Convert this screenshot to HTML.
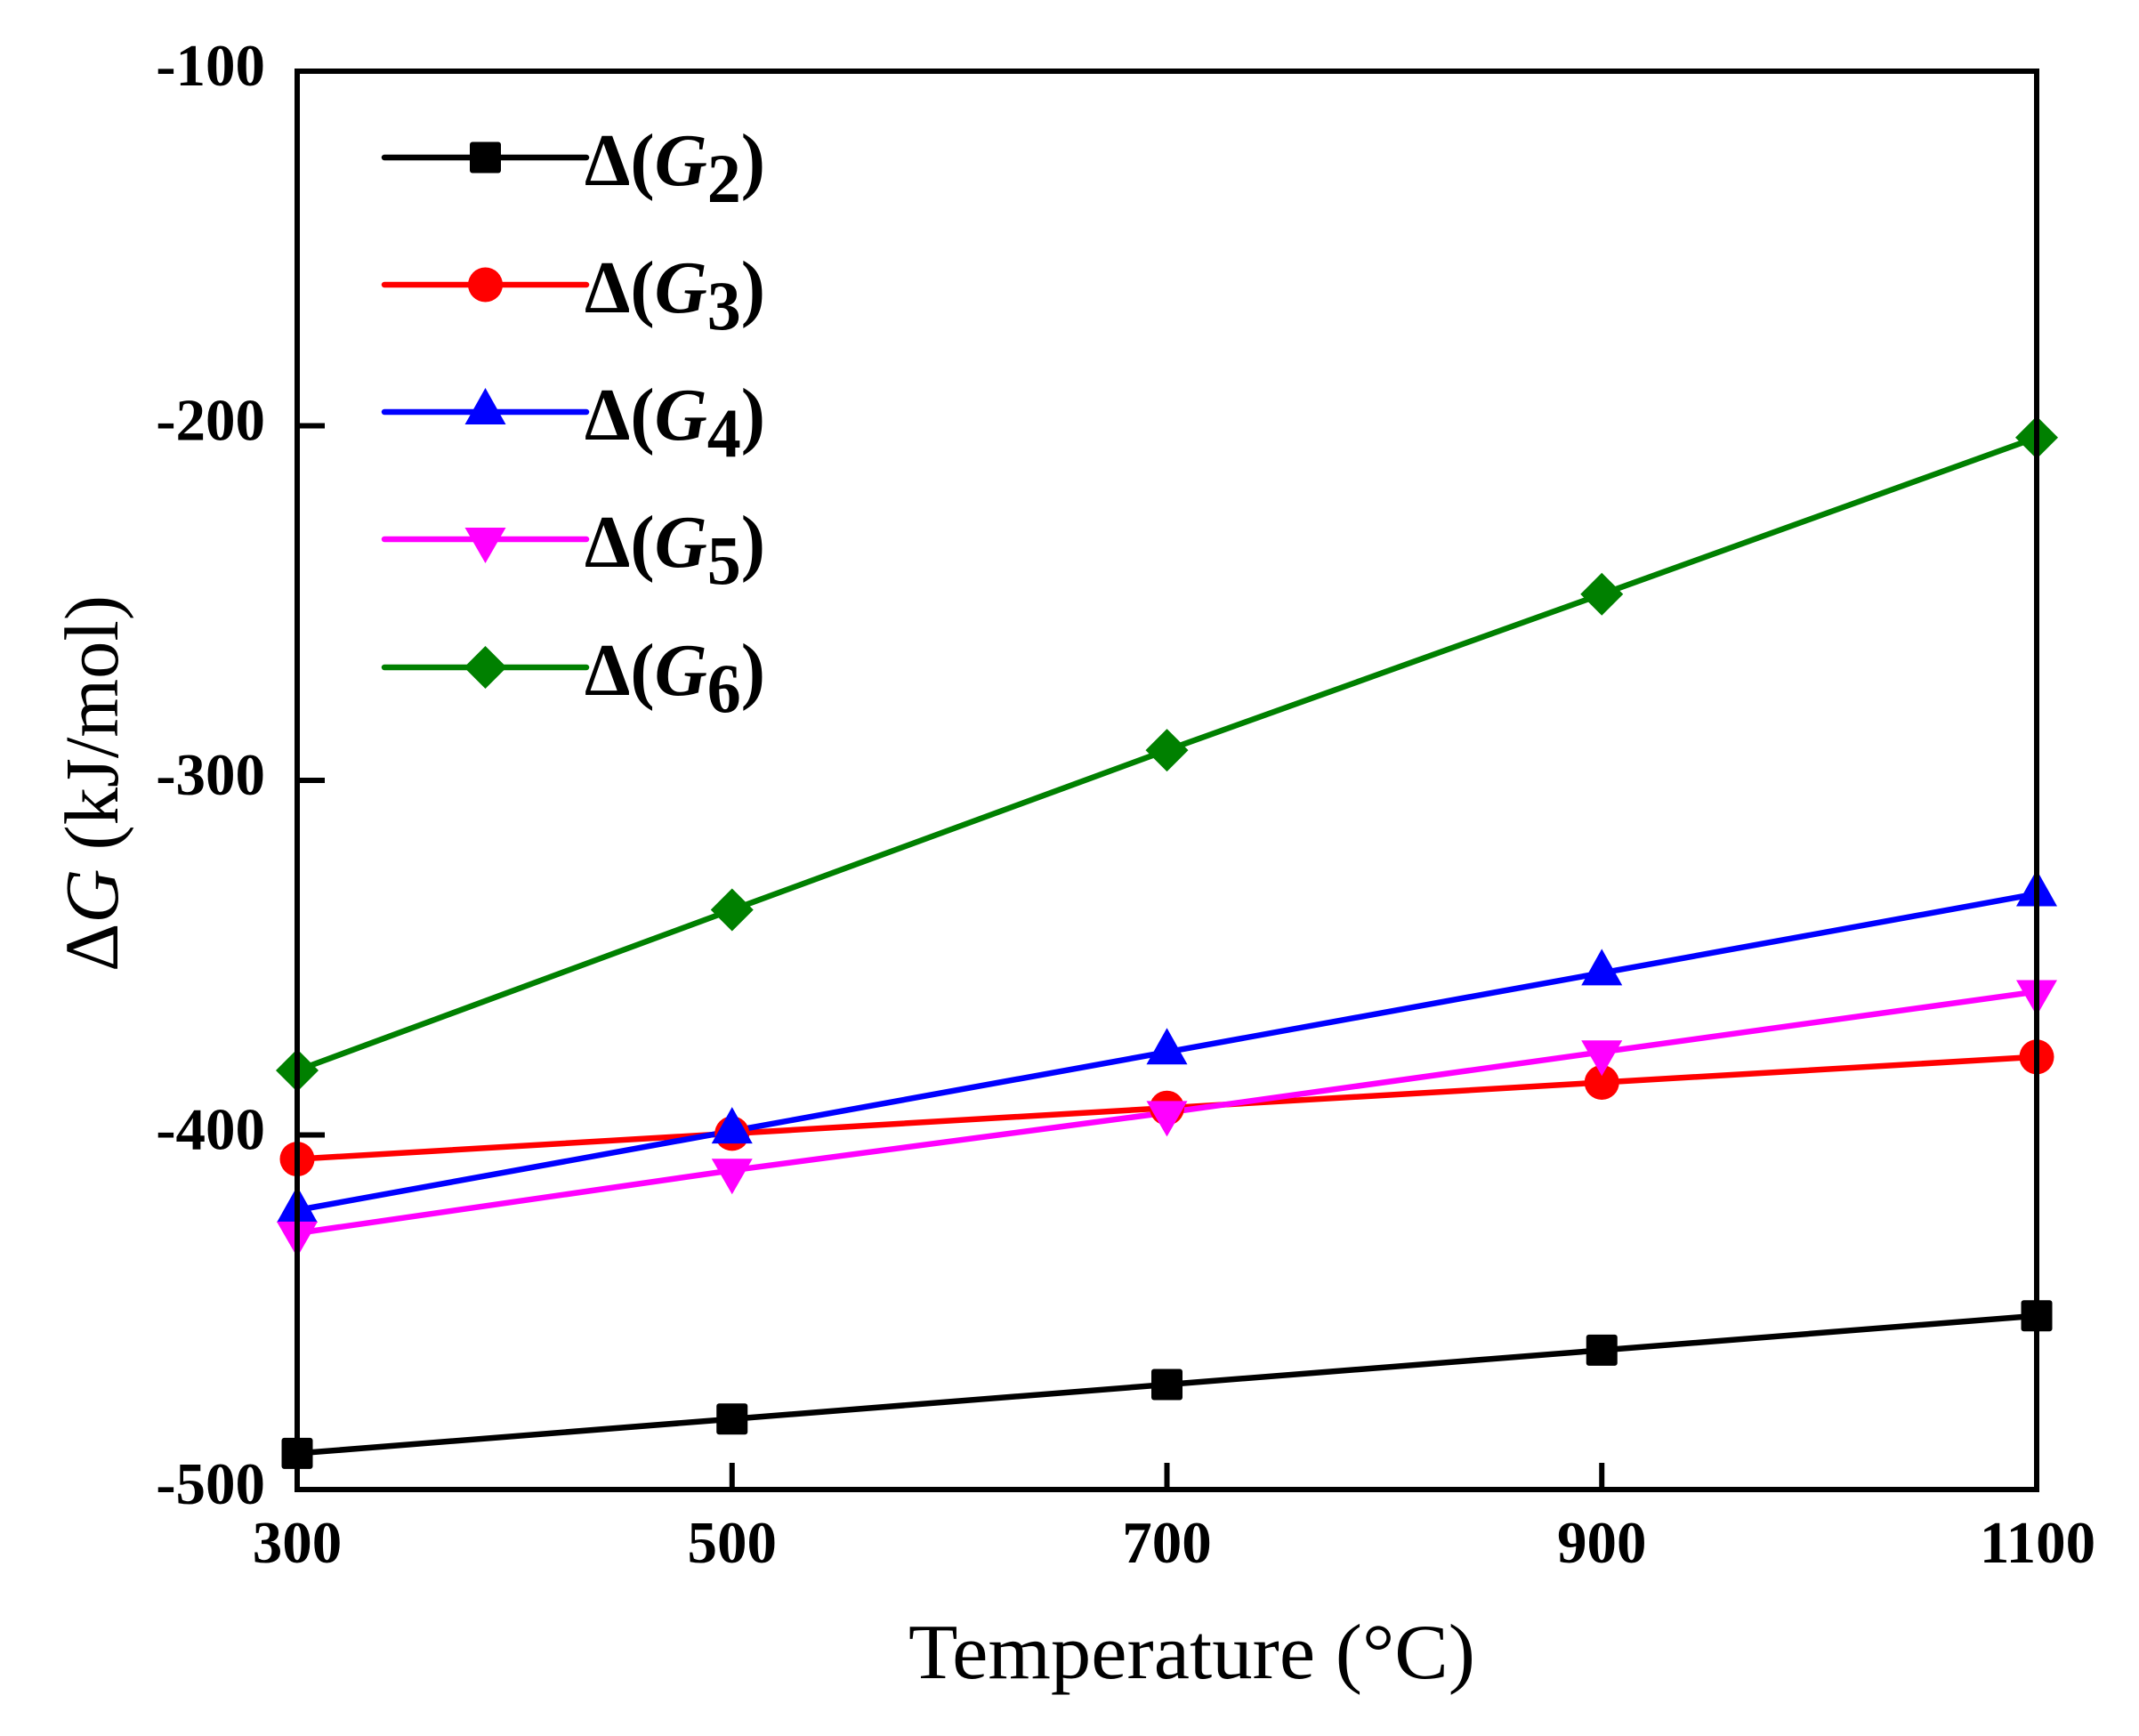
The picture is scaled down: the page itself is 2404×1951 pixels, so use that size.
<!DOCTYPE html>
<html>
<head>
<meta charset="utf-8">
<style>
html,body{margin:0;padding:0;background:#fff;}
svg{display:block;}
text{font-family:"Liberation Serif","DejaVu Serif",serif;fill:#000;}
.tk{font-size:67px;font-weight:bold;}
.lg{font-size:84px;font-weight:bold;}
</style>
</head>
<body>
<svg width="2404" height="1951" viewBox="0 0 2404 1951" xmlns="http://www.w3.org/2000/svg">
<rect x="0" y="0" width="2404" height="1951" fill="#fff"/>

<!-- ticks -->
<g stroke="#000" stroke-width="6" fill="none">
  <line x1="822.75" y1="1674" x2="822.75" y2="1644"/>
  <line x1="1311.5" y1="1674" x2="1311.5" y2="1644"/>
  <line x1="1800.25" y1="1674" x2="1800.25" y2="1644"/>
  <line x1="334" y1="1275.5" x2="365" y2="1275.5"/>
  <line x1="334" y1="877" x2="365" y2="877"/>
  <line x1="334" y1="478.5" x2="365" y2="478.5"/>
</g>

<!-- series lines -->
<g fill="none" stroke-width="6.5" stroke-linejoin="round">
  <polyline stroke="#000000" points="334,1633.4 822.75,1594.7 1311.5,1556.0 1800.25,1517.4 2289,1478.7"/>
  <polyline stroke="#ff0000" points="334,1302.6 822.75,1273.9 1311.5,1245.2 1800.25,1216.5 2289,1187.8"/>
  <polyline stroke="#0000ff" points="334,1360.0 822.75,1271.1 1311.5,1182.3 1800.25,1093.4 2289,1004.5"/>
  <polyline stroke="#ff00ff" points="334,1385.9 822.75,1315.3 1311.5,1250.4 1800.25,1182.3 2289,1114.5"/>
  <polyline stroke="#008000" points="334,1203.0 822.75,1022.5 1311.5,843.1 1800.25,667.8 2289,491.7"/>
</g>

<!-- markers G2 squares -->
<g fill="#000">
  <rect x="316.5" y="1615.9" width="35" height="35" rx="3"/>
  <rect x="805.25" y="1577.2" width="35" height="35" rx="3"/>
  <rect x="1294" y="1538.5" width="35" height="35" rx="3"/>
  <rect x="1782.75" y="1499.9" width="35" height="35" rx="3"/>
  <rect x="2271.5" y="1461.2" width="35" height="35" rx="3"/>
</g>
<!-- G3 circles -->
<g fill="#ff0000">
  <circle cx="334" cy="1302.6" r="19.5"/>
  <circle cx="822.75" cy="1273.9" r="19.5"/>
  <circle cx="1311.5" cy="1245.2" r="19.5"/>
  <circle cx="1800.25" cy="1216.5" r="19.5"/>
  <circle cx="2289" cy="1187.8" r="19.5"/>
</g>
<!-- G4 up triangles -->
<g fill="#0000ff">
  <polygon points="334,1333 357,1374 311,1374"/>
  <polygon points="822.75,1244.1 845.75,1285.1 799.75,1285.1"/>
  <polygon points="1311.5,1155.3 1334.5,1196.3 1288.5,1196.3"/>
  <polygon points="1800.25,1066.4 1823.25,1107.4 1777.25,1107.4"/>
  <polygon points="2289,977.5 2312,1018.5 2266,1018.5"/>
</g>
<!-- G5 down triangles -->
<g fill="#ff00ff">
  <polygon points="311,1372.9 357,1372.9 334,1412.9"/>
  <polygon points="799.75,1302.3 845.75,1302.3 822.75,1342.3"/>
  <polygon points="1288.5,1237.4 1334.5,1237.4 1311.5,1277.4"/>
  <polygon points="1777.25,1169.3 1823.25,1169.3 1800.25,1209.3"/>
  <polygon points="2266,1101.5 2312,1101.5 2289,1141.5"/>
</g>
<!-- G6 diamonds -->
<g fill="#008000">
  <polygon points="334,1179 358,1203 334,1227 310,1203"/>
  <polygon points="822.75,998.5 846.75,1022.5 822.75,1046.5 798.75,1022.5"/>
  <polygon points="1311.5,819.1 1335.5,843.1 1311.5,867.1 1287.5,843.1"/>
  <polygon points="1800.25,643.8 1824.25,667.8 1800.25,691.8 1776.25,667.8"/>
  <polygon points="2289,467.7 2313,491.7 2289,515.7 2265,491.7"/>
</g>

<!-- frame -->
<rect x="334" y="80" width="1955" height="1594" fill="none" stroke="#000" stroke-width="6"/>

<!-- y tick labels -->
<g class="tk" text-anchor="end">
  <text x="298" y="96">-100</text>
  <text x="298" y="494.5">-200</text>
  <text x="298" y="893">-300</text>
  <text x="298" y="1291.5">-400</text>
  <text x="298" y="1690">-500</text>
</g>
<!-- x tick labels -->
<g class="tk" text-anchor="middle">
  <text x="334" y="1756">300</text>
  <text x="822.75" y="1756">500</text>
  <text x="1311.5" y="1756">700</text>
  <text x="1800.25" y="1756">900</text>
  <text x="2290" y="1756">1100</text>
</g>

<!-- axis titles -->
<text x="1021" y="1886" font-size="88" textLength="637" lengthAdjust="spacingAndGlyphs">Temperature (°C)</text>
<text transform="translate(132,1092) rotate(-90)" font-size="86" textLength="423" lengthAdjust="spacingAndGlyphs">Δ<tspan font-style="italic">G</tspan> (kJ/mol)</text>

<!-- legend -->
<g stroke-width="6.5" stroke-linecap="round">
  <line x1="432" y1="177" x2="659" y2="177" stroke="#000"/>
  <line x1="432" y1="320" x2="659" y2="320" stroke="#ff0000"/>
  <line x1="432" y1="463" x2="659" y2="463" stroke="#0000ff"/>
  <line x1="432" y1="606" x2="659" y2="606" stroke="#ff00ff"/>
  <line x1="432" y1="750" x2="659" y2="750" stroke="#008000"/>
</g>
<rect x="528" y="159.5" width="35" height="35" rx="3" fill="#000"/>
<circle cx="545.5" cy="320" r="19.5" fill="#ff0000"/>
<polygon points="545.5,436 568.5,477 522.5,477" fill="#0000ff"/>
<polygon points="522.5,593 568.5,593 545.5,633" fill="#ff00ff"/>
<polygon points="545.5,726 569.5,750 545.5,774 521.5,750" fill="#008000"/>

<g class="lg">
  <text x="657" y="208" textLength="203" lengthAdjust="spacingAndGlyphs">Δ(<tspan font-style="italic">G</tspan><tspan dy="19" font-size="78">2</tspan><tspan dy="-19">)</tspan></text>
  <text x="657" y="351" textLength="203" lengthAdjust="spacingAndGlyphs">Δ(<tspan font-style="italic">G</tspan><tspan dy="19" font-size="78">3</tspan><tspan dy="-19">)</tspan></text>
  <text x="657" y="494" textLength="203" lengthAdjust="spacingAndGlyphs">Δ(<tspan font-style="italic">G</tspan><tspan dy="19" font-size="78">4</tspan><tspan dy="-19">)</tspan></text>
  <text x="657" y="637" textLength="203" lengthAdjust="spacingAndGlyphs">Δ(<tspan font-style="italic">G</tspan><tspan dy="19" font-size="78">5</tspan><tspan dy="-19">)</tspan></text>
  <text x="657" y="781" textLength="203" lengthAdjust="spacingAndGlyphs">Δ(<tspan font-style="italic">G</tspan><tspan dy="19" font-size="78">6</tspan><tspan dy="-19">)</tspan></text>
</g>
</svg>
</body>
</html>
